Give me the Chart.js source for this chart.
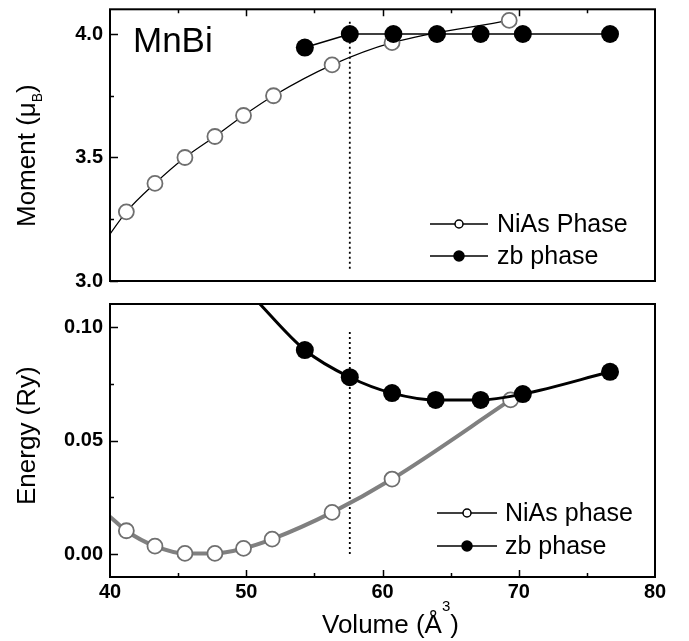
<!DOCTYPE html>
<html>
<head>
<meta charset="utf-8">
<script src="https://cdn.jsdelivr.net/npm/chart.js@4"></script>
<style>
  body { margin: 0; background: #fff; }
  #wrap { position: relative; width: 689px; height: 641px; }
  canvas { position: absolute; left: 0; }
</style>
</head>
<body>
<div id="wrap">
  <canvas id="momentChart" width="689" height="300" style="top:0"></canvas>
  <canvas id="energyChart" width="689" height="351" style="top:290px"></canvas>
</div>
<script>
const FONT = '"Liberation Sans", Arial, sans-serif';

// volume axis (A^3)
const volMin = 40, volMax = 80;

// top panel: moment (muB)
const volNiAsM = [41.2, 43.3, 45.5, 47.7, 49.8, 52.0, 56.3, 60.7, 69.3];
const momentNiAs = [3.28, 3.395, 3.50, 3.585, 3.67, 3.75, 3.875, 3.965, 4.055];
const volZbM = [54.3, 57.6, 60.8, 64.0, 67.2, 70.3, 76.7];
const momentZb = [3.945, 4.0, 4.0, 4.0, 4.0, 4.0, 4.0];
const momentCurveStart = [40, 3.19];   // guide line where it leaves the left axis

// bottom panel: energy (Ry)
const volNiAsE = [41.2, 43.3, 45.5, 47.7, 49.8, 51.9, 56.3, 60.7, 69.4];
const energyNiAs = [0.0103, 0.0035, 0.0003, 0.0003, 0.0025, 0.0066, 0.0184, 0.0331, 0.068];
const volZbE = [54.3, 57.6, 60.7, 63.9, 67.2, 70.3, 76.7];
const energyZb = [0.090, 0.078, 0.071, 0.068, 0.068, 0.0706, 0.0804];
const energyNiAsCurveStart = [40, 0.0165];
const energyZbCurveStart = [50.5, 0.1135];

// transition volume (dotted line)
const volTransition = 57.6;
const momentMarkRange = [3.04, 4.05];
const energyMarkRange = [-0.0005, 0.098];

const legendTop = ['NiAs Phase', 'zb phase'];
const legendBottom = ['NiAs phase', 'zb phase'];

function pts(xs, ys) { return xs.map((x, i) => ({ x, y: ys[i] })); }

function drawRich(ctx, parts, x, y, size) {
  ctx.textAlign = 'left';
  ctx.textBaseline = 'alphabetic';
  parts.forEach(p => {
    ctx.font = (p.size || size) + 'px ' + FONT;
    ctx.fillText(p.t, x, y + (p.shift || 0));
    x += ctx.measureText(p.t).width;
  });
}

// frame, inward ticks, legend and titles for one panel
function makeDecor(o) {
  return {
    id: 'decor',
    afterDatasetsDraw(chart) {
      const { ctx, chartArea: a } = chart;
      const xs = chart.scales.x, ys = chart.scales.y;
      ctx.save();
      ctx.strokeStyle = '#000';
      ctx.lineWidth = 2;
      ctx.strokeRect(a.left, a.top, a.right - a.left, a.bottom - a.top);
      ctx.lineWidth = 1.5;
      ctx.beginPath();
      for (let k = Math.ceil(ys.min / o.yMinor - 1e-6); k * o.yMinor <= ys.max + 1e-9; k++) {
        const py = Math.round(ys.getPixelForValue(k * o.yMinor)) + 0.5;
        ctx.moveTo(a.left, py);
        ctx.lineTo(a.left + (k % 2 === 0 ? 8 : 4), py);
      }
      const top = o.xTickSide === 'top';
      for (let v = volMin + 5; v < volMax; v += 5) {
        const px = Math.round(xs.getPixelForValue(v)) + 0.5;
        const y0 = top ? a.top : a.bottom;
        ctx.moveTo(px, y0);
        ctx.lineTo(px, y0 + (top ? 1 : -1) * (v % 10 === 0 ? 7 : 4));
      }
      ctx.stroke();

      const L = o.legend;
      L.labels.forEach((label, i) => {
        const y = L.y0 + i * L.dy;
        const open = i === 0;
        ctx.strokeStyle = '#000';
        ctx.lineWidth = 1.5;
        ctx.beginPath();
        ctx.moveTo(L.x0, y); ctx.lineTo(L.x1, y);
        ctx.stroke();
        ctx.beginPath();
        ctx.arc((L.x0 + L.x1) / 2, y, open ? 4 : 5, 0, 2 * Math.PI);
        ctx.fillStyle = open ? '#fff' : '#000';
        ctx.fill();
        ctx.stroke();
        ctx.fillStyle = '#000';
        ctx.font = '25px ' + FONT;
        ctx.textAlign = 'left';
        ctx.textBaseline = 'middle';
        ctx.fillText(label, L.tx, y + 1);
      });

      ctx.fillStyle = '#000';
      if (o.yTitle) {
        ctx.save();
        ctx.translate(35, o.yTitle.y);
        ctx.rotate(-Math.PI / 2);
        drawRich(ctx, o.yTitle.parts, 0, 0, 26);
        ctx.restore();
      }
      if (o.xTitle) drawRich(ctx, o.xTitle.parts, o.xTitle.x, o.xTitle.y, 26);
      if (o.label) {
        ctx.font = '35px ' + FONT;
        ctx.textAlign = 'left';
        ctx.textBaseline = 'alphabetic';
        ctx.fillText(o.label.text, o.label.x, o.label.y);
      }
      ctx.restore();
    }
  };
}

function yAxis(min, max, step, digits) {
  return {
    type: 'linear', position: 'left', min, max,
    grid: { display: false, drawTicks: false }, border: { display: false },
    ticks: {
      stepSize: step, includeBounds: false, padding: 7, color: '#000',
      font: { family: FONT, size: 20, weight: 'bold' },
      callback: v => Number(v).toFixed(digits)
    },
    afterFit: s => { s.width = 110; s.paddingTop = 0; s.paddingBottom = 0; }
  };
}

const markDash = {
  borderColor: '#000', borderWidth: 1.8, borderDash: [2, 3], pointRadius: 0, order: 3
};

new Chart(document.getElementById('momentChart'), {
  type: 'line',
  data: {
    datasets: [
      Object.assign({
        data: pts([volTransition, volTransition], momentMarkRange.slice().reverse())
      }, markDash),
      {
        data: [{ x: momentCurveStart[0], y: momentCurveStart[1] }].concat(pts(volNiAsM, momentNiAs)),
        borderColor: '#000', borderWidth: 1.2, cubicInterpolationMode: 'monotone',
        pointRadius: [0].concat(volNiAsM.map(() => 7.5)),
        pointBorderColor: '#6f6f6f', pointBackgroundColor: '#fff', pointBorderWidth: 1.8,
        order: 2
      },
      {
        data: pts(volZbM, momentZb),
        borderColor: '#000', borderWidth: 1.5, tension: 0,
        pointRadius: 9, pointBorderWidth: 0, pointBackgroundColor: '#000',
        order: 1
      }
    ]
  },
  options: {
    responsive: false, animation: false, events: [],
    layout: { padding: { top: 8, right: 34, bottom: 19, left: 0 } },
    clip: 0,
    scales: {
      x: { type: 'linear', min: volMin, max: volMax, display: false },
      y: yAxis(3.0, 4.1, 0.5, 1)
    },
    plugins: { legend: { display: false }, tooltip: { enabled: false } }
  },
  plugins: [makeDecor({
    yMinor: 0.25, xTickSide: 'top',
    legend: { labels: legendTop, x0: 430, x1: 488, tx: 497, y0: 224, dy: 32 },
    yTitle: { y: 227, parts: [{ t: 'Moment (\u03bc' }, { t: 'B', size: 14, shift: 7 }, { t: ')' }] },
    label: { text: 'MnBi', x: 133, y: 52 }
  })]
});

new Chart(document.getElementById('energyChart'), {
  type: 'line',
  data: {
    datasets: [
      Object.assign({
        data: pts([volTransition, volTransition], energyMarkRange.slice().reverse())
      }, markDash),
      {
        data: [{ x: energyNiAsCurveStart[0], y: energyNiAsCurveStart[1] }].concat(pts(volNiAsE, energyNiAs)),
        borderColor: '#808080', borderWidth: 4, cubicInterpolationMode: 'monotone',
        pointRadius: [0].concat(volNiAsE.map(() => 7.5)),
        pointBorderColor: '#6f6f6f', pointBackgroundColor: '#fff', pointBorderWidth: 1.8,
        order: 2
      },
      {
        data: [{ x: energyZbCurveStart[0], y: energyZbCurveStart[1] }].concat(pts(volZbE, energyZb)),
        borderColor: '#000', borderWidth: 3, cubicInterpolationMode: 'monotone',
        pointRadius: [0].concat(volZbE.map(() => 9)),
        pointBorderWidth: 0, pointBackgroundColor: '#000',
        order: 1
      }
    ]
  },
  options: {
    responsive: false, animation: false, events: [],
    layout: { padding: { top: 14, right: 34, bottom: 0, left: 0 } },
    clip: 0,
    scales: {
      x: {
        type: 'linear', min: volMin, max: volMax,
        grid: { display: false, drawTicks: false }, border: { display: false },
        ticks: { stepSize: 10, padding: 3, color: '#000', font: { family: FONT, size: 20, weight: 'bold' } },
        afterFit: s => { s.height = 64; s.paddingLeft = 0; s.paddingRight = 0; }
      },
      y: yAxis(-0.0101, 0.1103, 0.05, 2)
    },
    plugins: { legend: { display: false }, tooltip: { enabled: false } }
  },
  plugins: [makeDecor({
    yMinor: 0.025, xTickSide: 'bottom',
    legend: { labels: legendBottom, x0: 437, x1: 497, tx: 505, y0: 223, dy: 33 },
    yTitle: { y: 215, parts: [{ t: 'Energy (Ry)' }] },
    xTitle: { x: 322, y: 343, parts: [{ t: 'Volume (\u00c5' }, { t: '3', size: 15, shift: -22 }, { t: ')' }] }
  })]
});
</script>
</body>
</html>
